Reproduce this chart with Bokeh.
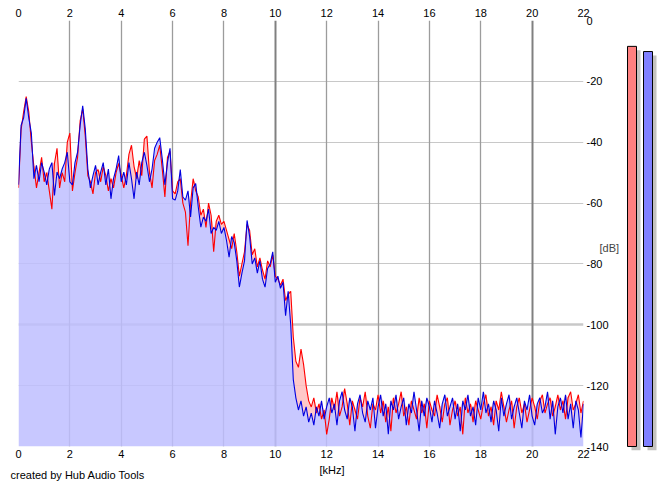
import numpy as np
from bokeh.plotting import figure
from bokeh.models import LinearAxis, FixedTicker, Grid, Range1d
from bokeh.layouts import row, column
from bokeh.core.properties import value
from bokeh.embed import file_html
from bokeh.resources import INLINE

# ---------------- data ----------------
x_ticks = [0, 2, 4, 6, 8, 10, 12, 14, 16, 18, 20, 22]
x_tick_labels = ["0", "2", "4", "6", "8", "10", "12", "14", "16", "18", "20", "22"]
db_ticks = [0, -20, -40, -60, -80, -100, -120, -140]
db_tick_labels = ["0", "-20", "-40", "-60", "-80", "-100", "-120", "-140"]

freq_khz = np.linspace(0, 22, 221)

# left channel (red)
left_db = [
    -55, -36, -30, -25, -30, -40, -48, -55, -50, -45,
    -53, -50, -56, -62, -47, -42, -55, -50, -53, -40,
    -37, -56, -50, -45, -33, -29, -38, -51, -53, -57,
    -50, -49, -53, -48, -51, -56, -52, -55, -50, -47,
    -51, -55, -51, -44, -41, -48, -52, -46, -51, -39,
    -38, -50, -55, -46, -44, -41, -49, -58, -45, -43, -56,
    -57, -53, -52, -60, -63, -74, -60, -52, -56, -58,
    -64, -62, -68, -60, -64, -76, -66, -64, -67, -66,
    -69, -72, -75, -70, -76, -84, -80, -76, -67, -69,
    -77, -75, -81, -78, -82, -85, -79, -81, -77, -84,
    -85, -87, -85, -92, -90, -89, -104, -112, -114, -108,
    -113, -120, -125, -127, -124, -129, -126, -131, -128, -136,
    -131, -124, -128, -122, -130, -127, -121, -126, -133, -125,
    -128, -131, -124, -127, -122, -130, -134, -126, -128, -123,
    -129, -125, -132, -127, -135, -124, -129, -126, -122, -130,
    -127, -133, -125, -128, -131, -124, -129, -126, -134, -125,
    -128, -130, -123, -127, -132, -126, -124, -133, -128, -125,
    -130, -127, -136, -124, -129, -126, -132, -125, -128, -131,
    -126, -123, -130, -127, -133, -125, -128, -122, -127, -132,
    -128, -125, -134, -127, -124, -129, -126, -132, -128, -124,
    -127, -131, -125, -123, -129, -126, -124, -130, -127, -123,
    -128, -125, -131, -124, -122, -128, -126, -123, -129, -125,
]

# right channel (blue)
right_db = [
    -54, -34.5, -32, -25.6, -32, -37, -52, -47.6, -53, -46.7,
    -49.8, -54, -48.8, -46.7, -57.5, -49.8, -52, -48.8, -46.7, -43.3,
    -53, -54, -46.7, -43.3, -34.5, -28, -35.6, -48.8, -55, -51,
    -47.6, -54, -49.8, -46.7, -54, -48.8, -58.6, -52, -48.8, -44.4,
    -53, -49.8, -54, -46.7, -52, -58.6, -49.8, -54, -46.7, -43.3,
    -47.6, -53, -48.8, -42, -40, -38.5, -45.6, -54, -46.7, -42, -58.6,
    -59, -56, -49, -58, -59, -56, -64.6, -55, -53.6, -61.3,
    -67.9, -64.6, -66, -62, -70, -68, -69, -66, -70, -68,
    -72.3, -77.8, -71, -73, -79, -87.6, -83, -79, -65.7, -71,
    -80, -78, -83, -79, -85, -87.6, -81.5, -80, -76, -86,
    -84, -88, -86, -97, -89, -100, -118, -124, -128, -125,
    -130, -127, -132, -129, -133, -127, -130, -125, -131, -127,
    -124, -129, -126, -133, -125, -122, -128, -131, -124, -127,
    -135, -126, -123, -129, -132, -125, -128, -124, -134, -127,
    -123, -130, -126, -136, -125, -128, -123, -131, -127, -124,
    -133, -126, -129, -122, -128, -135, -125, -130, -124, -127,
    -132, -125, -129, -134, -126, -123, -130, -127, -124, -131,
    -126, -135, -125, -128, -123, -130, -127, -133, -124, -128,
    -122, -129, -126, -132, -125, -128, -135, -124, -130, -126,
    -123, -131, -127, -124, -129, -134, -125, -128, -123, -130,
    -133, -126, -124, -129, -127, -122, -131, -125, -136, -127,
    -124, -129, -123, -131, -126, -134, -125, -128, -137, -126,
]

meter_levels_db = [-8.5, -10.2]
meter_colors = ["#ff8080", "#8080ff"]

footer_texts = ["[kHz]", "created by Hub Audio Tools"]

left_arr = np.array(left_db, dtype=float)
right_arr = np.array(right_db, dtype=float)

FONT = "Liberation Sans"
PX_PER_DB = 426 / 140.0

# ---------------- main spectrum figure ----------------
p = figure(frame_width=565, frame_height=426,
           min_border_left=18, min_border_right=37,
           min_border_top=20, min_border_bottom=16,
           x_range=Range1d(0, 22), y_range=Range1d(-140, 0),
           x_axis_location=None, y_axis_location=None,
           toolbar_location=None, output_backend="svg",
           background_fill_color="white", border_fill_color="white")
p.outline_line_color = None
p.center = []


def add_grid(fig, dim, ticks, color, width):
    g = Grid(dimension=dim, ticker=FixedTicker(ticks=ticks),
             grid_line_color=color, grid_line_width=width)
    fig.add_layout(g)


add_grid(p, 1, [0, -20, -40, -60, -80, -120], "#c8c8c8", 1)
add_grid(p, 1, [-100], "#c8c8c8", 2.5)
add_grid(p, 0, [2, 4, 6, 8, 12, 14, 16, 18, 22], "#9c9c9c", 1.3)
add_grid(p, 0, [0, 10, 20], "#808080", 2)


def mk_axis(ticks, labels, standoff):
    return LinearAxis(ticker=FixedTicker(ticks=ticks),
                      major_label_overrides={t: l for t, l in zip(ticks, labels)},
                      major_label_standoff=standoff,
                      axis_line_color=None,
                      major_tick_line_color=None, minor_tick_line_color=None,
                      major_tick_in=0, major_tick_out=0,
                      major_label_text_font=FONT,
                      major_label_text_font_size="11px",
                      major_label_text_color="black")


p.add_layout(mk_axis(x_ticks, x_tick_labels, 4), "above")
p.add_layout(mk_axis(x_ticks, x_tick_labels, 3), "below")
yax = mk_axis(db_ticks, db_tick_labels, 3)
yax.axis_label = "\n\n[dB]"
yax.axis_label_orientation = "horizontal"
yax.axis_label_standoff = -12
yax.axis_label_text_font = FONT
yax.axis_label_text_font_size = "11px"
yax.axis_label_text_font_style = "normal"
p.add_layout(yax, "right")

# fills
p.varea(x=freq_khz, y1=right_arr, y2=np.maximum(left_arr, right_arr),
        fill_color="#ffbebe", fill_alpha=0.85)
p.varea(x=freq_khz, y1=-140, y2=right_arr, fill_color="#bebeff", fill_alpha=0.85)
# lines
p.line(freq_khz, left_arr, line_color="#ff0000", line_width=1.1)
p.line(freq_khz, right_arr, line_color="#0000e0", line_width=1.1)

# ---------------- level meter figure ----------------
shadow_db = 4 / PX_PER_DB
m = figure(frame_width=45, frame_height=430,
           min_border_left=0, min_border_right=0,
           min_border_top=20, min_border_bottom=12,
           x_range=Range1d(0, 45), y_range=Range1d(-140 - shadow_db, 0),
           x_axis_location=None, y_axis_location=None,
           toolbar_location=None, output_backend="svg",
           background_fill_color="white", border_fill_color="white")
m.outline_line_color = None
m.center = []

bar_left = [5, 21]
bar_w = 9
levels = np.array(meter_levels_db)
m.quad(left=[b + 4 for b in bar_left], right=[b + 4 + bar_w for b in bar_left],
       top=levels - shadow_db, bottom=-140 - shadow_db,
       fill_color="#c4c2c0", line_color=None)
m.quad(left=bar_left, right=[b + bar_w for b in bar_left],
       top=levels, bottom=-140,
       fill_color=meter_colors, line_color="black", line_width=1)

# ---------------- footer strip ----------------
f = figure(frame_width=665, frame_height=25,
           min_border_left=0, min_border_right=0,
           min_border_top=0, min_border_bottom=0,
           x_range=Range1d(0, 665), y_range=Range1d(25, 0),
           x_axis_location=None, y_axis_location=None,
           toolbar_location=None, output_backend="svg",
           background_fill_color="white", border_fill_color="white")
f.outline_line_color = None
f.center = []
f.text(x=[319, 10], y=[7, 12], text=footer_texts,
       text_font=value(FONT), text_font_size="11px", text_color="black",
       text_align="left", text_baseline="middle")

layout = column(row(p, m), f)
open("out.html", "w").write(file_html(layout, INLINE))
